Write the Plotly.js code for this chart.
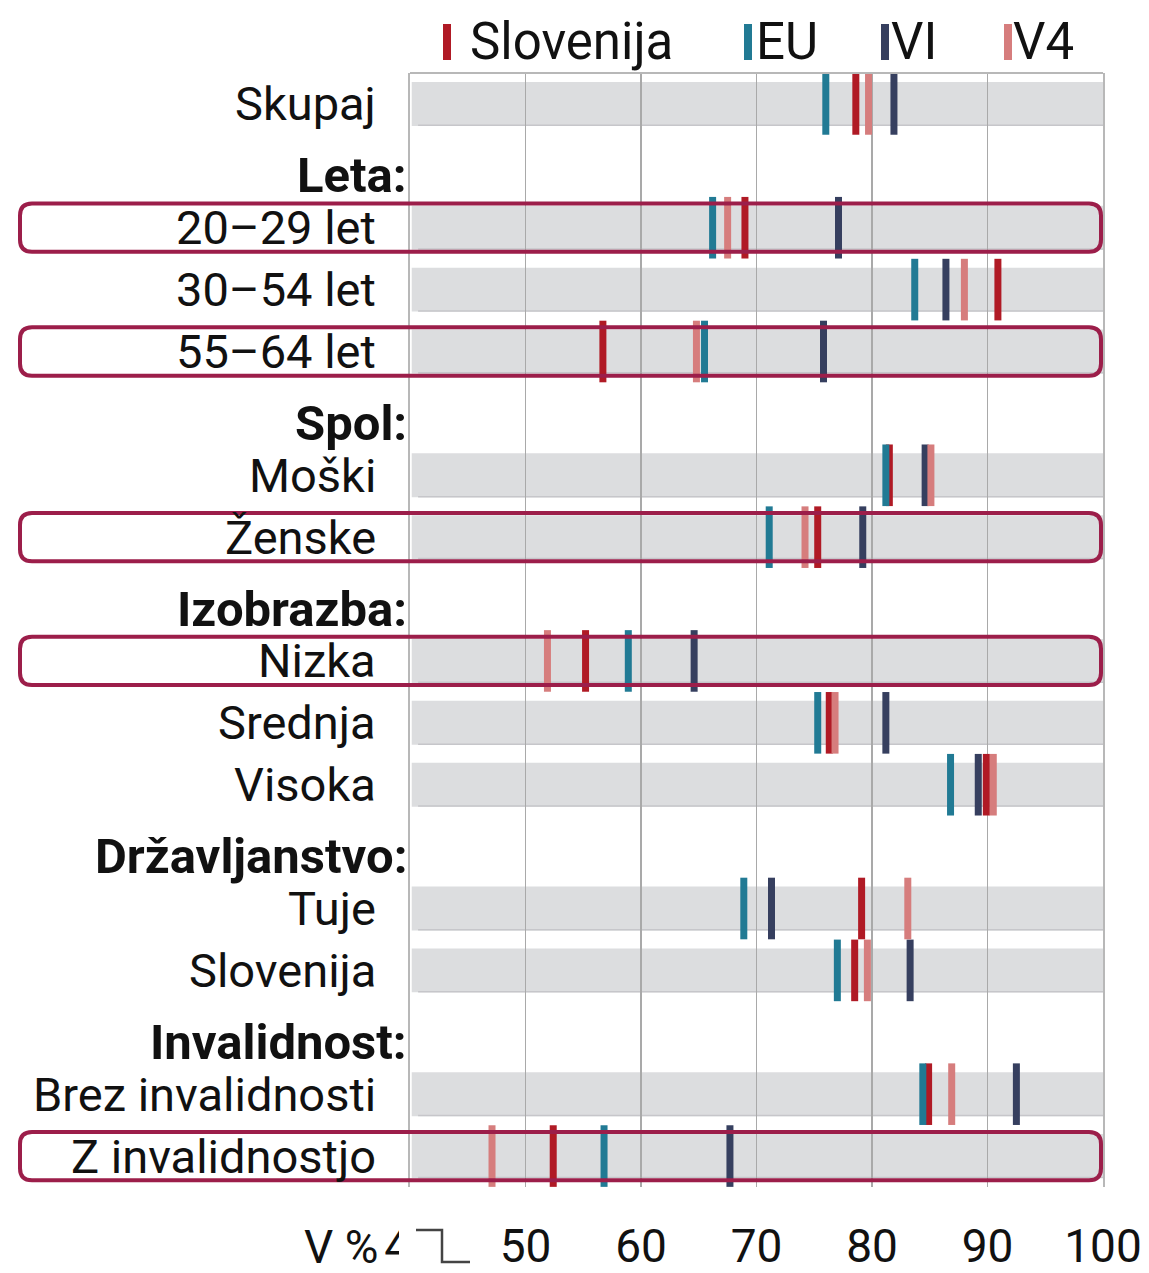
<!DOCTYPE html>
<html>
<head>
<meta charset="utf-8">
<script src="https://cdn.plot.ly/plotly-3.0.1.min.js"></script>
<style>
  html, body { margin: 0; padding: 0; background: #ffffff; }
  #chart { width: 1149px; height: 1273px; }
</style>
</head>
<body>
<div id="chart"></div>
<script>
// ---- Data ----
const rowLabels = ["Skupaj", "Leta:", "20–29 let", "30–54 let", "55–64 let", "Spol:", "Moški", "Ženske",
  "Izobrazba:", "Nizka", "Srednja", "Visoka", "Državljanstvo:", "Tuje", "Slovenija",
  "Invalidnost:", "Brez invalidnosti", "Z invalidnostjo"];
const headerLabels = ["Leta:", "Spol:", "Izobrazba:", "Državljanstvo:", "Invalidnost:"];
const categories = ["Skupaj", "20–29 let", "30–54 let", "55–64 let", "Moški", "Ženske",
  "Nizka", "Srednja", "Visoka", "Tuje", "Slovenija", "Brez invalidnosti", "Z invalidnostjo"];
const highlighted = ["20–29 let", "55–64 let", "Ženske", "Nizka", "Z invalidnostjo"];

const seriesNames = ["Slovenija", "EU", "VI", "V4"];
const sloveniaValues = [78.6, 69.0, 90.9, 56.7, 81.5, 75.3, 55.2, 76.3, 89.9, 79.1, 78.5, 84.9, 52.4];
const euValues       = [76.0, 66.2, 83.7, 65.5, 81.2, 71.1, 58.9, 75.3, 86.8, 68.9, 77.0, 84.4, 56.8];
const viValues       = [81.9, 77.1, 86.4, 75.8, 84.6, 79.2, 64.6, 81.2, 89.2, 71.3, 83.3, 92.5, 67.7];
const v4Values       = [79.7, 67.5, 88.0, 64.8, 85.1, 74.2, 51.9, 76.8, 90.5, 83.1, 79.6, 86.9, 47.1];
const tickValues = [40, 50, 60, 70, 80, 90, 100];
const tickLabels = ["40", "50", "60", "70", "80", "90", "100"];
const unitLabel = "V %";

// ---- Styling ----
const colors = ["#b01a25", "#217a94", "#363f5f", "#d67d7d"];
const FONT = "Roboto, 'Noto Sans', Arial, sans-serif";
const bandColor = "#dcdddf";
const boxColor = "#9c1e4a";
const plotL = 410, plotR = 1103, plotT = 73, plotB = 1187;
const W = 1149, H = 1273;
const pw = plotR - plotL, ph = plotB - plotT;
const px2x = p => (p - plotL) / pw;
const py2y = p => (plotB - p) / ph;

const yOf = c => rowLabels.indexOf(c);
const catY = categories.map(yOf);
const allValues = [sloveniaValues, euValues, viValues, v4Values];

const traces = allValues.map((vals, i) => ({
  type: "scatter",
  mode: "markers",
  x: vals,
  y: catY,
  name: seriesNames[i],
  showlegend: false,
  hoverinfo: "x+name",
  marker: {
    symbol: "line-ns",
    size: 44,
    color: colors[i],
    line: { color: colors[i], width: 7 }
  }
}));

const shapes = [];
// grey bands (below gridlines)
catY.forEach(y => {
  shapes.push({
    type: "rect", layer: "below", xref: "x", yref: "y",
    x0: 40.15, x1: 100, y0: y - 0.355, y1: y + 0.355,
    fillcolor: bandColor, line: { width: 0 }
  });
  shapes.push({
    type: "line", layer: "below", xref: "x", yref: "y",
    x0: 40.7, x1: 100, y0: y + 0.345, y1: y + 0.345,
    line: { color: "#c6c6ca", width: 1.5 }
  });
});
// top border
shapes.push({
  type: "line", xref: "paper", yref: "paper", x0: 0, x1: 1, y0: 1, y1: 1,
  line: { color: "#b8b8b8", width: 2 }
});
// highlight boxes (rounded)
const bx0 = px2x(20), bx1 = px2x(1101);
const rx = 12 / pw, ry = 12 / (ph / rowLabels.length);
highlighted.forEach(c => {
  const y = yOf(c);
  const y0 = y - 0.39, y1 = y + 0.39;
  const path = `M ${bx0 + rx},${y0} L ${bx1 - rx},${y0} Q ${bx1},${y0} ${bx1},${y0 + ry} ` +
    `L ${bx1},${y1 - ry} Q ${bx1},${y1} ${bx1 - rx},${y1} L ${bx0 + rx},${y1} ` +
    `Q ${bx0},${y1} ${bx0},${y1 - ry} L ${bx0},${y0 + ry} Q ${bx0},${y0} ${bx0 + rx},${y0} Z`;
  shapes.push({
    type: "path", layer: "above", xref: "paper", yref: "y", path: path,
    line: { color: boxColor, width: 4 }, fillcolor: "rgba(0,0,0,0)"
  });
});
// axis-break cover and symbol
shapes.push({
  type: "rect", layer: "above", xref: "paper", yref: "paper",
  x0: px2x(399), x1: px2x(478), y0: py2y(1273), y1: py2y(1210),
  fillcolor: "#ffffff", line: { width: 0 }
});
shapes.push({
  type: "path", layer: "above", xref: "paper", yref: "paper",
  path: `M ${px2x(416)},${py2y(1230)} L ${px2x(442)},${py2y(1230)} L ${px2x(442)},${py2y(1262)} L ${px2x(470)},${py2y(1262)}`,
  line: { color: "#444444", width: 2.5 }, fillcolor: "rgba(0,0,0,0)"
});
// legend swatches
const legendBarX = [447, 748, 885, 1008];
const legendTextX = [468, 754, 889, 1011];
legendBarX.forEach((p, i) => {
  shapes.push({
    type: "rect", xref: "paper", yref: "paper",
    x0: px2x(p - 4), x1: px2x(p + 4), y0: py2y(60), y1: py2y(24),
    fillcolor: colors[i], line: { width: 0 }
  });
});

const annotations = [];
rowLabels.forEach((lab, i) => {
  const isHeader = headerLabels.includes(lab);
  annotations.push({
    xref: "paper", yref: "y", x: 0, y: i,
    xanchor: "right", yanchor: "middle",
    xshift: isHeader ? -1 : -32, yshift: isHeader ? -10 : 0,
    text: isHeader ? "<b>" + lab + "</b>" : lab,
    showarrow: false,
    font: { family: FONT, size: isHeader ? 49 : 47, color: "#111111" }
  });
});
seriesNames.forEach((n, i) => {
  annotations.push({
    xref: "paper", yref: "paper", x: px2x(legendTextX[i]), y: py2y(42),
    xanchor: "left", yanchor: "middle", text: n, showarrow: false,
    font: { family: FONT, size: 51, color: "#111111" }
  });
});
annotations.push({
  xref: "paper", yref: "paper", x: px2x(380), y: py2y(1247),
  xanchor: "right", yanchor: "middle", text: unitLabel, showarrow: false,
  font: { family: FONT, size: 46, color: "#111111" }
});

const layout = {
  width: W, height: H,
  margin: { l: plotL, r: W - plotR, t: plotT, b: H - plotB, pad: 0 },
  paper_bgcolor: "#ffffff",
  plot_bgcolor: "#ffffff",
  showlegend: false,
  font: { family: FONT, color: "#111111" },
  xaxis: {
    range: [40, 100],
    tickvals: tickValues, ticktext: tickLabels,
    showgrid: true, gridcolor: "#a9a9a9", gridwidth: 1.5,
    zeroline: false, showline: false, ticks: "",
    ticklabelstandoff: 28,
    tickfont: { family: FONT, size: 46, color: "#111111" },
    fixedrange: true
  },
  yaxis: {
    range: [rowLabels.length - 0.5, -0.5],
    showticklabels: false, showgrid: false, zeroline: false,
    showline: true, mirror: true, linecolor: "#b8b8b8", linewidth: 2,
    ticks: "", fixedrange: true
  },
  shapes: shapes,
  annotations: annotations
};

Plotly.newPlot("chart", traces, layout, { displayModeBar: false, staticPlot: true });
</script>
</body>
</html>
